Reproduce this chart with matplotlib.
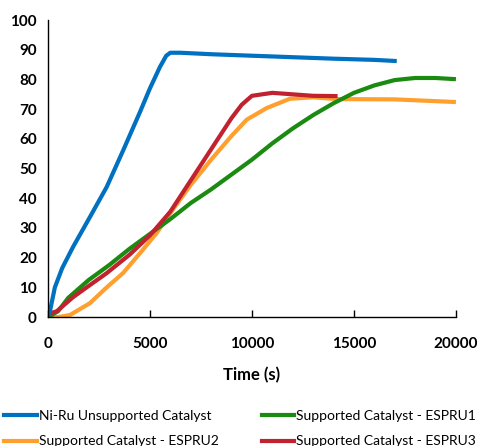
import matplotlib
matplotlib.use("Agg")
import matplotlib.pyplot as plt
from matplotlib.lines import Line2D

plt.rcParams['font.family'] = ['Lato', 'DejaVu Sans']

blue_t = [0, 100, 340, 700, 1230, 2060, 2880, 3680, 4510, 5000, 5490, 5800, 6000, 6500, 8000, 10000, 12000, 14000, 16000, 17100]
blue_y = [0.5, 2, 10, 16.5, 23.6, 33.7, 43.8, 56, 69, 77, 84.2, 88, 89, 89, 88.5, 88, 87.5, 87, 86.6, 86.2]

green_t = [0, 500, 1000, 2000, 3000, 4000, 5000, 6000, 7000, 8000, 9000, 10000, 11000, 12000, 13000, 14000, 15000, 16000, 17000, 18000, 19000, 20000]
green_y = [0, 2, 6.5, 12.5, 17.5, 23, 28, 33, 38.4, 43, 48, 53, 58.5, 63.5, 68, 72, 75.5, 78, 79.8, 80.5, 80.5, 80.1]

orange_t = [0, 500, 1080, 2060, 2880, 3680, 4510, 5330, 6000, 7000, 8000, 9000, 9750, 10730, 11860, 13000, 14170, 17000, 20000]
orange_y = [0, 0, 0.7, 4.7, 10, 14.8, 21.5, 28.3, 35, 44.5, 53, 61, 66.5, 70.4, 73.5, 74, 73.4, 73.3, 72.4]

red_t = [0, 440, 1230, 2000, 2880, 4000, 5000, 6000, 7000, 8000, 9000, 9500, 10000, 11000, 12000, 13000, 14200]
red_y = [1, 2, 6.7, 10.5, 14.8, 21, 27.5, 35.5, 46, 56.5, 67, 71.5, 74.5, 75.5, 75, 74.5, 74.4]

labels = ["Ni-Ru Unsupported Catalyst", "Supported Catalyst - ESPRU1",
          "Supported Catalyst - ESPRU2", "Supported Catalyst - ESPRU3"]
colors = ["#0070C0", "#1B8A10", "#FF9F2E", "#C0232F"]

fig = plt.figure(figsize=(4.84, 4.46), dpi=100)
ax = fig.add_axes([0.099, 0.289, 0.843, 0.666])

series = [(blue_t, blue_y), (green_t, green_y), (orange_t, orange_y), (red_t, red_y)]
order = [2, 1, 3, 0]
for i in order:
    t, y = series[i]
    ax.plot(t, y, color=colors[i], lw=3, solid_capstyle='butt', solid_joinstyle='round')

ax.set_xlim(0, 20000)
ax.set_ylim(0, 100)
ax.set_xticks([0, 5000, 10000, 15000, 20000])
ax.set_yticks(range(0, 101, 10))
for s in ['top', 'right']:
    ax.spines[s].set_visible(False)
ax.spines['left'].set_linewidth(1)
ax.spines['bottom'].set_linewidth(1)
ax.tick_params(axis='x', direction='in', length=5, width=1, pad=14, labelsize=11)
ax.tick_params(axis='y', length=0, pad=8, labelsize=11)
for lab in ax.get_xticklabels() + ax.get_yticklabels():
    lab.set_fontweight('bold')
ax.set_xlabel("Time (s)", fontsize=12, fontweight='bold', labelpad=12)

handles = [Line2D([0], [0], color=c, lw=3) for c in colors]
leg_order = [0, 2, 1, 3]
fig.legend([handles[i] for i in leg_order], [labels[i] for i in leg_order],
           loc='lower left', bbox_to_anchor=(-0.012, -0.025), ncol=2, borderaxespad=0.3,
           frameon=False, fontsize=10, handlelength=2.35, handletextpad=0.15,
           columnspacing=3.1, labelspacing=0.95)

fig.savefig("out.png", dpi=100)
